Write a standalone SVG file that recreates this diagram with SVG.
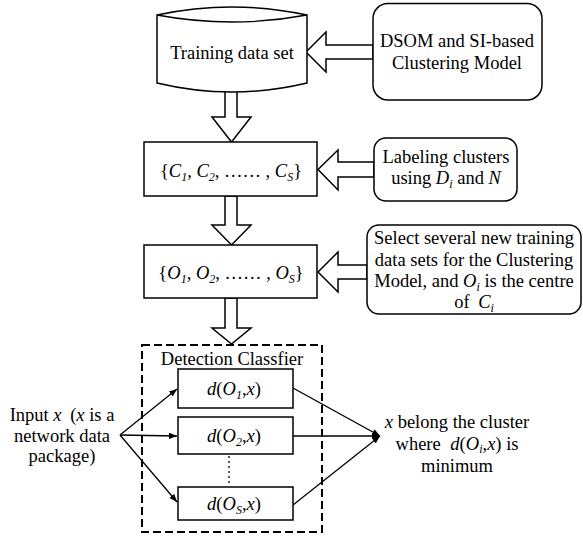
<svg xmlns="http://www.w3.org/2000/svg" width="583" height="537" viewBox="0 0 583 537">
  <style>
    .t { font-family: 'Liberation Serif', 'DejaVu Serif', serif; font-size: 18.5px; fill: #000; }
    .c { text-anchor: middle; }
    .i { font-style: italic; }
    .sub { font-size: 12px; font-style: italic; }
    .box { fill: #fff; stroke: #000; stroke-width: 1.5; }
    .blk { fill: #fff; stroke: #000; stroke-width: 1.5; stroke-linejoin: miter; }
    .ln { fill: none; stroke: #000; stroke-width: 1.3; }
  </style>
  <defs>
    <marker id="ah" viewBox="0 0 10 8" refX="10" refY="4" markerWidth="8" markerHeight="6.4" markerUnits="userSpaceOnUse" orient="auto">
      <path d="M0,0 L10,4 L0,8 Z" fill="#000"/>
    </marker>
  </defs>
  <rect width="583" height="537" fill="#fff"/>

  <!-- connectors: hollow block arrows and thin arrows -->
  <g id="connectors">
    <polygon class="blk" points="306,52 326,32 326,45 373,45 373,59 326,59 326,72"/>
    <polygon class="blk" points="318,169.5 338,150 338,162 374,162 374,177 338,177 338,190"/>
    <polygon class="blk" points="318,272 338,252 338,265 367,265 367,279 338,279 338,292"/>
    <polygon class="blk" points="225,91 237,91 237,117 251,117 231.5,142 212,117 225,117"/>
    <polygon class="blk" points="225,196 237,196 237,225 251,225 231.5,245 212,225 225,225"/>
    <polygon class="blk" points="225,298 237,298 237,328 251,328 231.5,344 212,328 225,328"/>
    <line class="ln" x1="120" y1="435" x2="177" y2="389" marker-end="url(#ah)"/>
    <line class="ln" x1="120" y1="435" x2="177" y2="436" marker-end="url(#ah)"/>
    <line class="ln" x1="120" y1="435" x2="177" y2="502" marker-end="url(#ah)"/>
    <line class="ln" x1="293" y1="388" x2="380" y2="436" marker-end="url(#ah)"/>
    <line class="ln" x1="293" y1="436" x2="380" y2="436" marker-end="url(#ah)"/>
    <line class="ln" x1="293" y1="505" x2="380" y2="436" marker-end="url(#ah)"/>
    <line x1="229" y1="456" x2="229" y2="486" stroke="#000" stroke-width="1.3" stroke-dasharray="2 3"/>
  </g>

  <g id="training-data">
    <path class="box" d="M157,15 Q232,-1 307,15 L307,83 Q232,101 157,83 Z"/>
    <path class="ln" d="M157,15 Q232,29 307,15"/>
    <text class="t c" x="232" y="59">Training data set</text>
  </g>

  <g id="clustering-model">
    <rect class="box" x="373" y="3.5" width="169" height="96.5" rx="15"/>
    <text class="t c" x="457" y="47">DSOM and SI-based</text>
    <text class="t c" x="457" y="69">Clustering Model</text>
  </g>

  <g id="clusters">
    <rect class="box" x="144" y="142" width="173" height="54"/>
    <text class="t c" x="231" y="177">{<tspan class="i">C</tspan><tspan class="sub" dy="4">1</tspan><tspan dy="-4">, </tspan><tspan class="i">C</tspan><tspan class="sub" dy="4">2</tspan><tspan dy="-4">, …… , </tspan><tspan class="i">C</tspan><tspan class="sub" dy="4">S</tspan><tspan dy="-4">}</tspan></text>
  </g>

  <g id="labeling">
    <rect class="box" x="374" y="138" width="143" height="63" rx="12"/>
    <text class="t c" x="446" y="163">Labeling clusters</text>
    <text class="t c" x="446" y="184">using <tspan class="i">D</tspan><tspan class="sub" dy="4">i</tspan><tspan dy="-4"> and </tspan><tspan class="i">N</tspan></text>
  </g>

  <g id="centres">
    <rect class="box" x="144" y="245" width="173" height="53"/>
    <text class="t c" x="231" y="279">{<tspan class="i">O</tspan><tspan class="sub" dy="4">1</tspan><tspan dy="-4">, </tspan><tspan class="i">O</tspan><tspan class="sub" dy="4">2</tspan><tspan dy="-4">, …… , </tspan><tspan class="i">O</tspan><tspan class="sub" dy="4">S</tspan><tspan dy="-4">}</tspan></text>
  </g>

  <g id="select-sets">
    <rect class="box" x="367" y="225" width="214" height="89" rx="12"/>
    <text class="t c" x="474" y="244">Select several new training</text>
    <text class="t c" x="474" y="266">data sets for the Clustering</text>
    <text class="t c" x="474" y="287">Model, and <tspan class="i">O</tspan><tspan class="sub" dy="4">i</tspan><tspan dy="-4"> is the centre</tspan></text>
    <text class="t c" x="474" y="308">of <tspan class="i" dx="4">C</tspan><tspan class="sub" dy="4">i</tspan></text>
  </g>

  <g id="detection-classifier">
    <rect x="142" y="345" width="180" height="187" fill="none" stroke="#000" stroke-width="2" stroke-dasharray="8 4"/>
    <text class="t c" x="232" y="365">Detection Classfier</text>
  </g>

  <g id="distance-1">
    <rect class="box" x="178" y="369" width="115" height="39"/>
    <text class="t c" x="234" y="395"><tspan class="i">d</tspan>(<tspan class="i">O</tspan><tspan class="sub" dy="4">1</tspan><tspan dy="-4">,</tspan><tspan class="i">x</tspan>)</text>
  </g>

  <g id="distance-2">
    <rect class="box" x="178" y="417" width="115" height="37"/>
    <text class="t c" x="234" y="442"><tspan class="i">d</tspan>(<tspan class="i">O</tspan><tspan class="sub" dy="4">2</tspan><tspan dy="-4">,</tspan><tspan class="i">x</tspan>)</text>
  </g>

  <g id="distance-s">
    <rect class="box" x="178" y="487" width="115" height="33"/>
    <text class="t c" x="234" y="510"><tspan class="i">d</tspan>(<tspan class="i">O</tspan><tspan class="sub" dy="4">S</tspan><tspan dy="-4">,</tspan><tspan class="i">x</tspan>)</text>
  </g>

  <g id="input">
    <text class="t c" x="62" y="421">Input <tspan class="i">x</tspan><tspan dx="4"> (</tspan><tspan class="i">x</tspan> is a</text>
    <text class="t c" x="62" y="442">network data</text>
    <text class="t c" x="62" y="462">package)</text>
  </g>

  <g id="result">
    <text class="t c" x="457" y="428"><tspan class="i">x</tspan> belong the cluster</text>
    <text class="t c" x="457" y="450">where <tspan class="i" dx="5">d</tspan>(<tspan class="i">O</tspan><tspan class="sub" dy="3">i</tspan><tspan dy="-3">,</tspan><tspan class="i">x</tspan>) is</text>
    <text class="t c" x="457" y="472">minimum</text>
  </g>
</svg>
